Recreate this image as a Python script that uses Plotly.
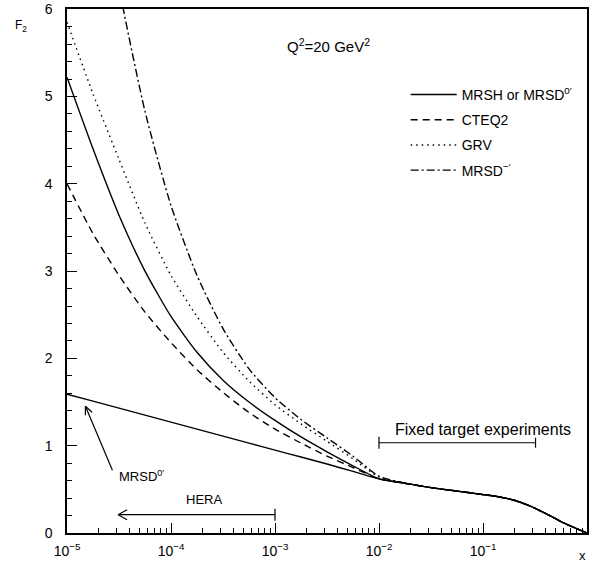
import numpy as np
import plotly.graph_objects as go

# ---- data (log10 x grid, F2 values) ----
logx_small = [-5, -4.75, -4.5, -4.25, -4, -3.75, -3.5, -3.25, -3, -2.75, -2.5, -2.25, -2]
logx_large = [-1.75, -1.5, -1.25, -1, -0.85, -0.7, -0.55, -0.4, -0.25, -0.15, -0.07, 0]

f2_large = [0.57, 0.52, 0.48, 0.44, 0.415, 0.375, 0.31, 0.225, 0.13, 0.075, 0.035, 0.0]

mrsh_small = [5.22, 4.40, 3.64, 3.00, 2.48, 2.07, 1.75, 1.50, 1.29, 1.10, 0.93, 0.77, 0.62]
cteq2_small = [4.00, 3.43, 2.95, 2.53, 2.18, 1.87, 1.61, 1.38, 1.19, 1.03, 0.88, 0.75, 0.62]
grv_small = [5.85, 5.03, 4.28, 3.55, 2.95, 2.48, 2.07, 1.74, 1.47, 1.25, 1.05, 0.85, 0.64]
mrsdm_small = [10.2, 8.0, 6.25, 4.83, 3.75, 2.95, 2.34, 1.88, 1.55, 1.30, 1.09, 0.88, 0.65]
mrsd0_small = [1.59, 1.51, 1.43, 1.35, 1.27, 1.19, 1.11, 1.03, 0.95, 0.87, 0.79, 0.705, 0.62]

names = ["MRSH or MRSD<sup>0′</sup>", "CTEQ2", "GRV", "MRSD<sup>−′</sup>"]
x_tick_vals = [1e-5, 1e-4, 1e-3, 1e-2, 1e-1]
x_tick_text = ["10<sup>−5</sup>", "10<sup>−4</sup>", "10<sup>−3</sup>", "10<sup>−2</sup>", "10<sup>−1</sup>"]
y_tick_vals = [0, 1, 2, 3, 4, 5, 6]
y_tick_text = ["0", "1", "2", "3", "4", "5", "6"]

x_all = 10 ** np.array(logx_small + logx_large)

FONT = "Liberation Sans, Arial, sans-serif"

fig = go.Figure()

series = [
    (names[0], mrsh_small, "solid"),
    (names[1], cteq2_small, "7px,5px"),
    (names[2], grv_small, "1.5px,4px"),
    (names[3], mrsdm_small, "8px,3px,2px,3px"),
]
for i, (nm, ys, dash) in enumerate(series):
    fig.add_trace(go.Scatter(
        x=x_all, y=ys + f2_large, mode="lines", name=nm,
        legendgroup=f"g{i}",
        line=dict(color="black", width=1.4, dash=dash, shape="spline", smoothing=0.6),
    ))

fig.add_trace(go.Scatter(
    x=x_all, y=mrsd0_small + f2_large, mode="lines", showlegend=False,
    line=dict(color="black", width=1.4, shape="spline", smoothing=0.6),
))

axis_common = dict(
    showgrid=False, zeroline=False, showline=True, linecolor="black", linewidth=1.5,
    mirror=True, ticks="inside", tickcolor="black", ticklen=10, tickwidth=1.2,
    tickfont=dict(family=FONT, size=14, color="black"), ticklabeloverflow="allow",
)

fig.update_xaxes(
    type="log", range=[-5, 0], tickmode="array", tickvals=x_tick_vals, ticktext=x_tick_text,
    ticklabelstandoff=4,
    minor=dict(ticks="inside", ticklen=5, tickwidth=1, tickcolor="black", dtick="D1", showgrid=False),
    **axis_common,
)
fig.update_yaxes(
    range=[0, 6.002], tickmode="array", tickvals=y_tick_vals, ticktext=y_tick_text,
    ticklabelstandoff=10,
    minor=dict(ticks="inside", ticklen=5, tickwidth=1, tickcolor="black", dtick=0.2, showgrid=False),
    **axis_common,
)

shapes = []
def seg(xa, ya, x0, y0, x1, y1):
    shapes.append(dict(type="line", xref="x", yref="y", xsizemode="pixel", ysizemode="pixel",
                       xanchor=xa, yanchor=ya, x0=x0, y0=y0, x1=x1, y1=y1,
                       line=dict(color="black", width=1.2)))

# HERA arrow
shapes.append(dict(type="line", xref="x", yref="y", x0=3.1e-5, x1=1e-3, y0=0.21, y1=0.21,
                   line=dict(color="black", width=1.2)))
seg(1e-3, 0.21, 0, -6, 0, 6)
seg(3.1e-5, 0.21, 0, 0, 9, 5)
seg(3.1e-5, 0.21, 0, 0, 9, -5)
# Fixed target arrow
shapes.append(dict(type="line", xref="x", yref="y", x0=1e-2, x1=0.32, y0=1.034, y1=1.034,
                   line=dict(color="black", width=1.2)))
seg(1e-2, 1.034, 0, -6, 0, 6)
seg(0.32, 1.034, 0, 0, -9, 5)
seg(0.32, 1.034, 0, 0, -9, -5)
# MRSD0' pointer
hx, hy = 10 ** -4.823, 1.452
seg(hx, hy, 0, 0, 27, -64)
seg(hx, hy, 0, 0, 6.7, -6.0)
seg(hx, hy, 0, 0, -0.3, -9.0)

annotations = [
    dict(text="Q<sup>2</sup>=20 GeV<sup>2</sup>", xref="paper", yref="paper",
         x=(330 - 67) / 522, y=(533.5 - 32) / 526.8, showarrow=False,
         font=dict(family=FONT, size=15, color="black")),
    dict(text="MRSD<sup>0′</sup>", xref="x", yref="y", x=-4.286, y=0.655, showarrow=False,
         font=dict(family=FONT, size=13, color="black")),
    dict(text="HERA", xref="x", yref="y", x=-3.683, y=0.38, showarrow=False,
         font=dict(family=FONT, size=13, color="black")),
    dict(text="Fixed target experiments", xref="x", yref="y", x=-1.0, y=1.19, showarrow=False,
         font=dict(family=FONT, size=16, color="black")),
    dict(text="F<sub>2</sub>", xref="paper", yref="paper", x=(13 - 67) / 522, y=(533.5 - 14) / 526.8,
         showarrow=False, font=dict(family=FONT, size=12, color="black")),
    dict(text="x", xref="paper", yref="paper", x=(590 - 67) / 522, y=(533.5 - 566) / 526.8,
         xanchor="right", yanchor="bottom",
         showarrow=False, font=dict(family=FONT, size=13, color="black")),
]

fig.update_layout(
    width=590, height=567,
    margin=dict(l=67, r=1, t=7, b=34),
    paper_bgcolor="white", plot_bgcolor="white",
    font=dict(family=FONT, color="black"),
    shapes=shapes, annotations=annotations,
    legend=dict(x=(407 - 67) / 522, y=(533.5 - 77) / 526.8, xanchor="left", yanchor="top",
                bgcolor="rgba(0,0,0,0)", font=dict(family=FONT, size=14, color="black"),
                itemwidth=46, tracegroupgap=4),
)

fig.write_html("out.html")
